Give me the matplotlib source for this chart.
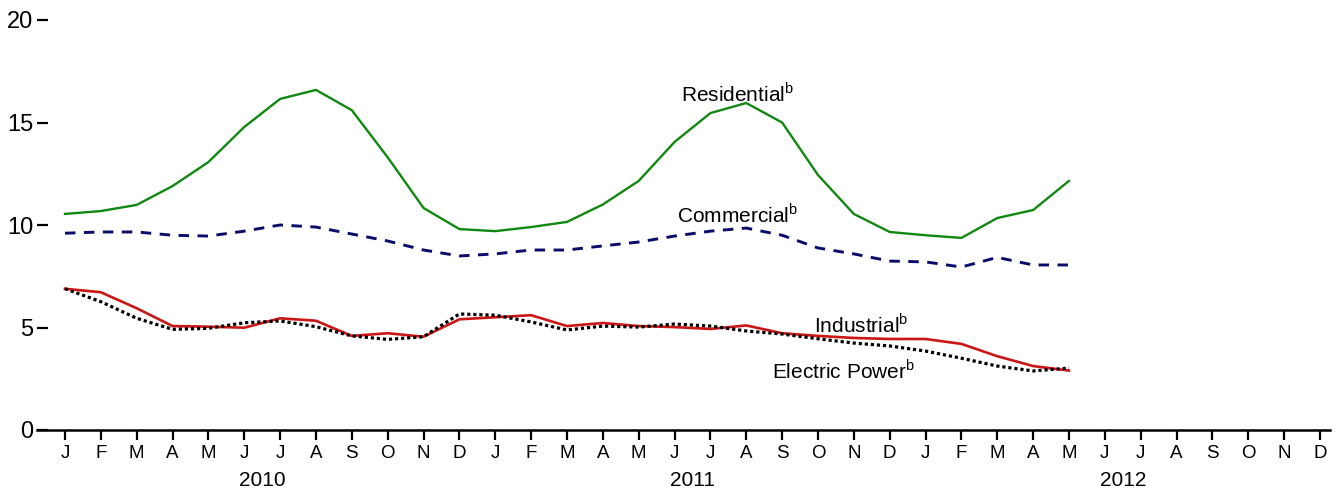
import matplotlib
matplotlib.use("Agg")
import matplotlib.pyplot as plt

plt.rcParams['font.family'] = ['Liberation Sans', 'DejaVu Sans']
plt.rcParams['mathtext.fontset'] = 'custom'
plt.rcParams['mathtext.rm'] = 'Liberation Sans'

MONTHS = ["J", "F", "M", "A", "M", "J", "J", "A", "S", "O", "N", "D"]
YEARS = ["2010", "2011", "2012"]

# Jan 2010 .. May 2012
residential = [10.54, 10.68, 10.98, 11.9, 13.07, 14.78, 16.15, 16.59, 15.6, 13.3, 10.83, 9.8,
               9.7, 9.9, 10.15, 11.0, 12.15, 14.05, 15.46, 15.95, 15.0, 12.44, 10.54, 9.66,
               9.5, 9.37, 10.34, 10.73, 12.15]
commercial = [9.6, 9.66, 9.66, 9.5, 9.46, 9.7, 10.0, 9.9, 9.56, 9.22, 8.78, 8.49,
              8.59, 8.78, 8.78, 8.98, 9.17, 9.46, 9.7, 9.85, 9.5, 8.88, 8.59, 8.24,
              8.2, 7.95, 8.42, 8.05, 8.05]
industrial = [6.89, 6.72, 5.94, 5.07, 5.04, 4.99, 5.45, 5.33, 4.59, 4.72, 4.55, 5.4,
              5.5, 5.6, 5.07, 5.22, 5.07, 5.02, 4.93, 5.1, 4.72, 4.59, 4.49, 4.44,
              4.44, 4.2, 3.6, 3.12, 2.9]
electric = [6.89, 6.26, 5.45, 4.91, 4.96, 5.23, 5.32, 5.04, 4.59, 4.42, 4.55, 5.66,
            5.6, 5.27, 4.88, 5.07, 5.02, 5.17, 5.07, 4.83, 4.68, 4.45, 4.24, 4.1,
            3.85, 3.5, 3.12, 2.88, 3.02]

x = list(range(len(residential)))

fig = plt.figure(figsize=(13.44, 4.93), dpi=100)
ax = fig.add_axes([37 / 1344, 63 / 493, (1330 - 37) / 1344, 410 / 493])

ax.plot(x, residential, color="#118811", lw=1.7)
ax.plot(x, commercial, color="#0b0b6b", lw=2.1, dashes=(3.6, 2.9))
ax.plot(x, industrial, color="#cc1515", lw=1.9)
ax.plot(x, electric, color="black", lw=2.3, linestyle=(0, (1, 0.9)))

lab = dict(fontsize=15, ha="center", va="center")
ax.text(18.75, 16.4, r"Residential$^{\mathrm{b}}$", **lab)
ax.text(18.75, 10.5, r"Commercial$^{\mathrm{b}}$", **lab)
ax.text(22.2, 5.15, r"Industrial$^{\mathrm{b}}$", **lab)
ax.text(21.7, 2.9, r"Electric Power$^{\mathrm{b}}$", **lab)

ax.set_xlim(-0.78, 35.28)
ax.set_ylim(0, 20)
ax.set_xticks(range(36))
ax.set_xticklabels(MONTHS * 3, fontsize=13.5)
ax.set_yticks([0, 5, 10, 15, 20])
ax.tick_params(axis="x", direction="out", length=7, width=1.6, pad=4)
ax.tick_params(axis="y", direction="in", length=7.8, width=1.6, pad=2.5, labelsize=17)

for i, yr in enumerate(YEARS):
    ax.text(12 * i + 5.5, -0.122, yr, transform=ax.get_xaxis_transform(),
            ha="center", va="center", fontsize=15)

for s in ["top", "right", "left"]:
    ax.spines[s].set_visible(False)
ax.spines["bottom"].set_linewidth(1.8)

fig.savefig("out.png", dpi=100)
